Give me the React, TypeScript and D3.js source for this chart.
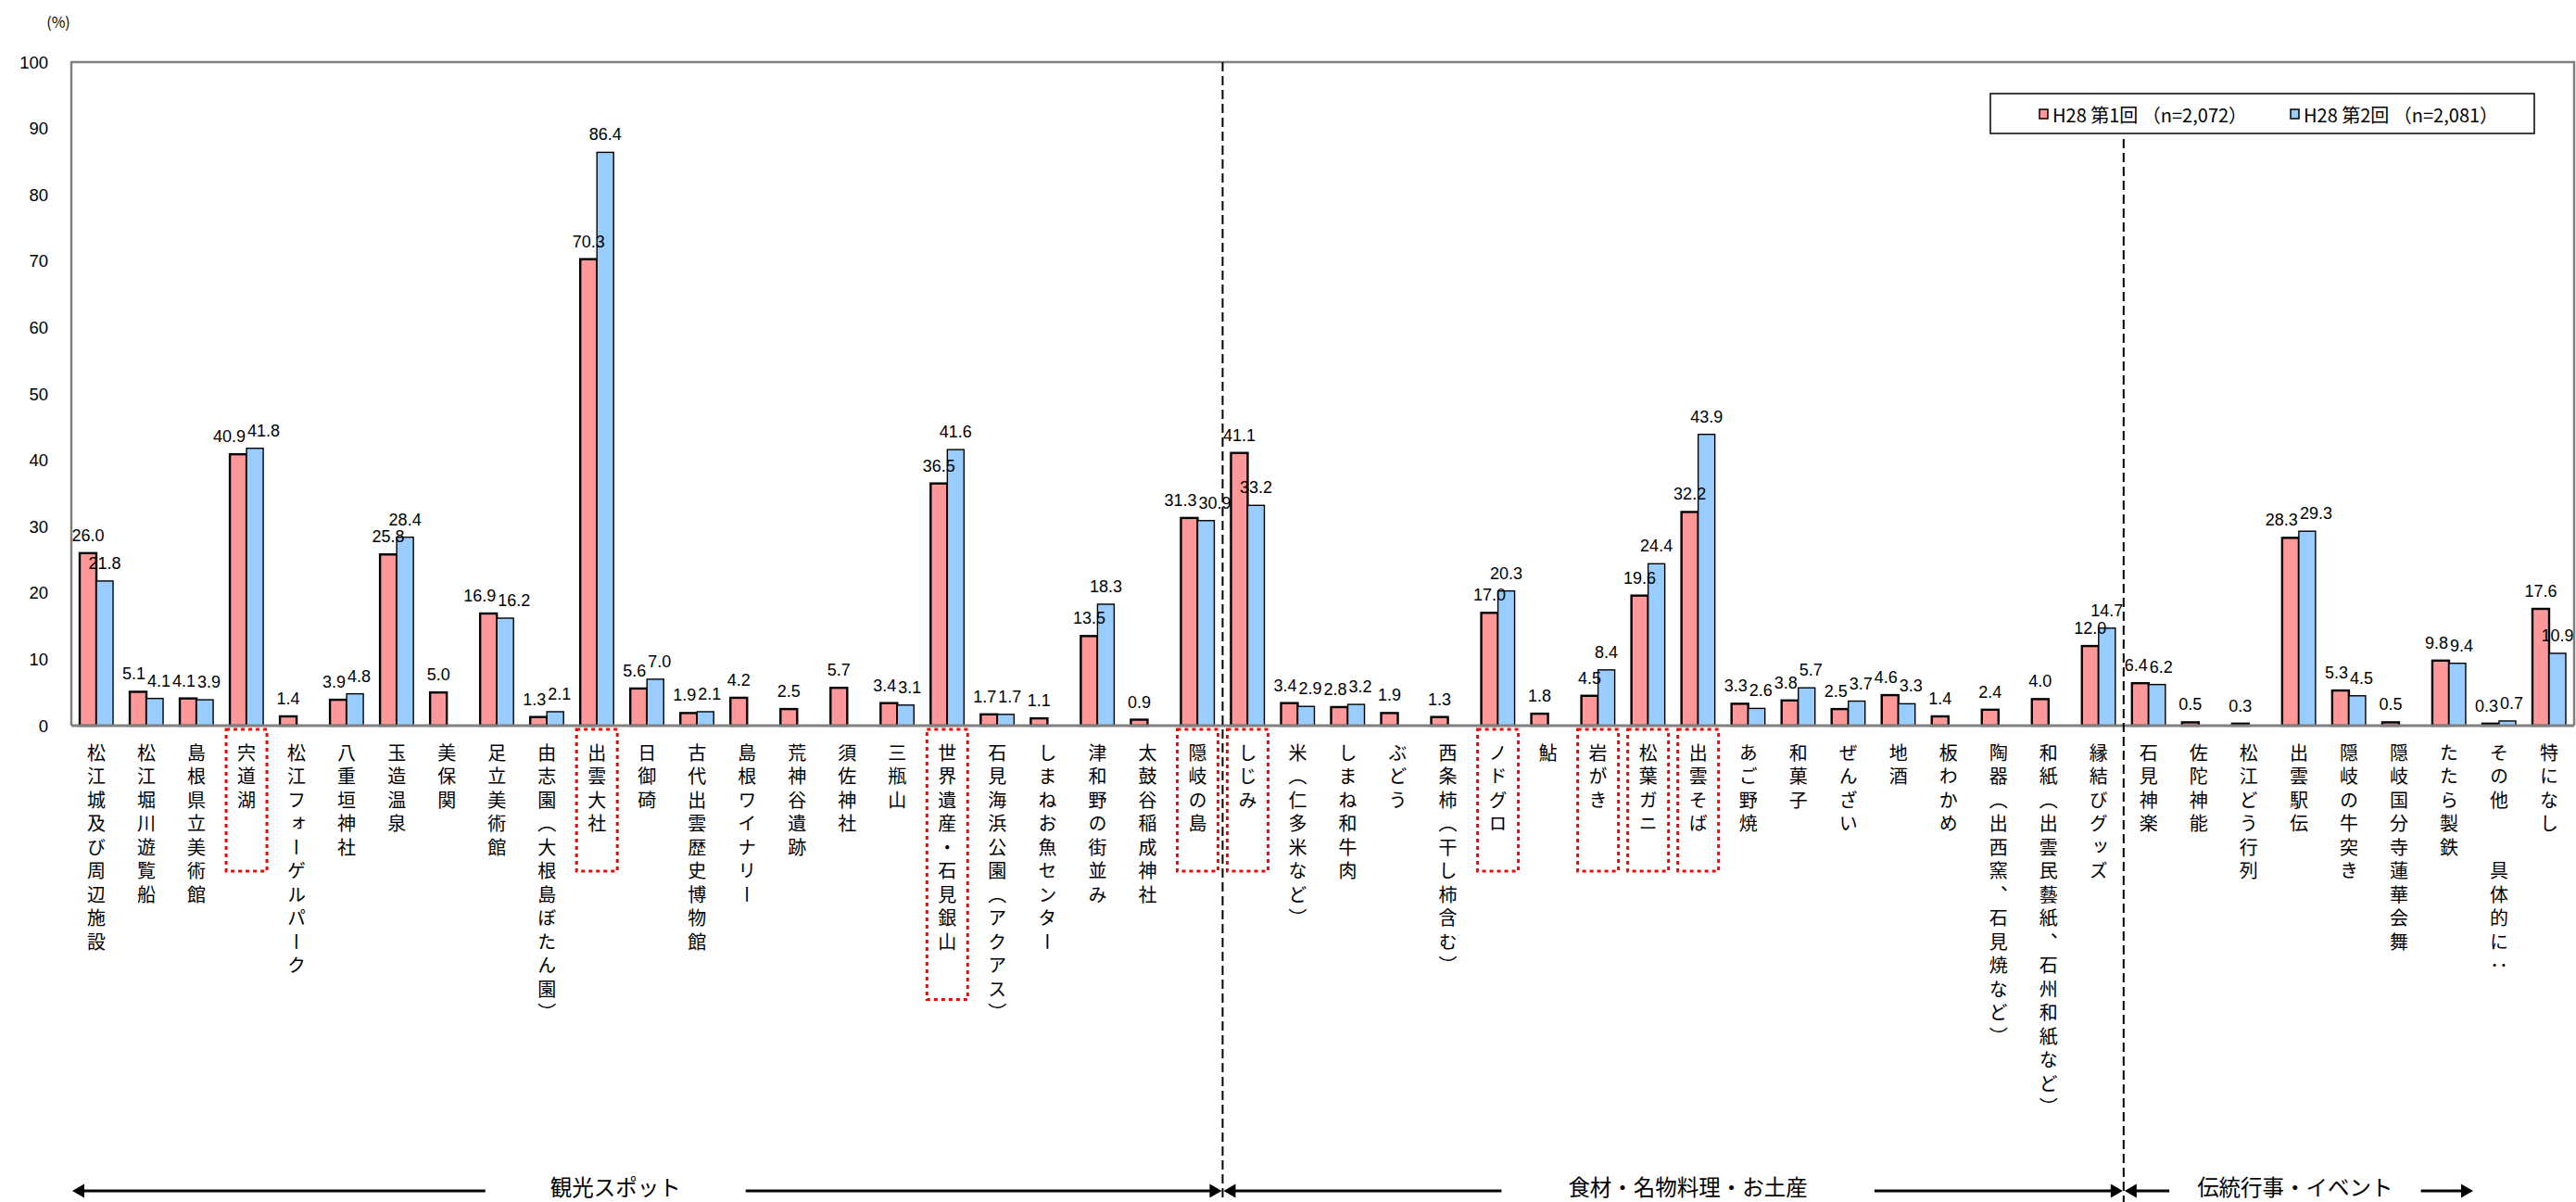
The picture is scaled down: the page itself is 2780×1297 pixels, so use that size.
import * as d3 from 'd3';

const categories = [
  '松江城及び周辺施設', '松江堀川遊覧船', '島根県立美術館', '宍道湖', '松江フォーゲルパーク',
  '八重垣神社', '玉造温泉', '美保関', '足立美術館', '由志園（大根島ぼたん園）',
  '出雲大社', '日御碕', '古代出雲歴史博物館', '島根ワイナリー', '荒神谷遺跡',
  '須佐神社', '三瓶山', '世界遺産・石見銀山', '石見海浜公園（アクアス）', 'しまねお魚センター',
  '津和野の街並み', '太鼓谷稲成神社', '隠岐の島',
  'しじみ', '米（仁多米など）', 'しまね和牛肉', 'ぶどう', '西条柿（干し柿含む）',
  'ノドグロ', '鮎', '岩がき', '松葉ガニ', '出雲そば',
  'あご野焼', '和菓子', 'ぜんざい', '地酒', '板わかめ',
  '陶器（出西窯、石見焼など）', '和紙（出雲民藝紙、石州和紙など）', '縁結びグッズ',
  '石見神楽', '佐陀神能', '松江どう行列', '出雲駅伝', '隠岐の牛突き',
  '隠岐国分寺蓮華会舞', 'たたら製鉄', 'その他　　具体的に：', '特になし',
];

const round1 = [
  26.0, 5.1, 4.1, 40.9, 1.4, 3.9, 25.8, 5.0, 16.9, 1.3,
  70.3, 5.6, 1.9, 4.2, 2.5, 5.7, 3.4, 36.5, 1.7, 1.1,
  13.5, 0.9, 31.3,
  41.1, 3.4, 2.8, 1.9, 1.3, 17.0, 1.8, 4.5, 19.6, 32.2,
  3.3, 3.8, 2.5, 4.6, 1.4, 2.4, 4.0, 12.0,
  6.4, 0.5, 0.3, 28.3, 5.3, 0.5, 9.8, 0.3, 17.6,
];

const round2: (number | null)[] = [
  21.8, 4.1, 3.9, 41.8, null, 4.8, 28.4, null, 16.2, 2.1,
  86.4, 7.0, 2.1, null, null, null, 3.1, 41.6, 1.7, null,
  18.3, null, 30.9,
  33.2, 2.9, 3.2, null, null, 20.3, null, 8.4, 24.4, 43.9,
  2.6, 5.7, 3.7, 3.3, null, null, null, 14.7,
  6.2, null, null, 29.3, 4.5, null, 9.4, 0.7, 10.9,
];

const seriesNames = ['H28 第1回 （n=2,072）', 'H28 第2回 （n=2,081）'];

const highlighted = ['宍道湖', '出雲大社', '世界遺産・石見銀山', '隠岐の島', 'しじみ', 'ノドグロ', '岩がき', '松葉ガニ', '出雲そば'];

const sectionNames = ['観光スポット', '食材・名物料理・お土産', '伝統行事・イベント'];
const sectionFirst = [0, 23, 41];
const sectionLast = [22, 40, 47];

const yTicks = [0, 10, 20, 30, 40, 50, 60, 70, 80, 90, 100];

const W = 2780;
const H = 1297;
const left = 77;
const right = 2778;
const top = 67;
const bottom = 783;

const RED = '#FF9999';
const BLUE = '#99CCFF';
const GRAY = '#808080';
const JP = '"Noto Sans CJK JP", "Noto Sans CJK SC", sans-serif';
const NUM = '"Liberation Sans", Arial, sans-serif';

// layout tweaks for the section captions under the chart
const sectionShift = [-34, 16, -4];
const sectionGap = [70, 72, 30];
const sectionFont = 23.5;
const labelFont = 18;

// rough width of a value label, Arial metrics
const labelWidth = (s: string) =>
  Array.from(s).reduce((w, ch) => w + (ch === '.' ? 0.278 : 0.556) * labelFont, 0);

export default function App() {
  const x = d3.scaleBand<string>()
    .domain(categories)
    .range([left, right])
    .paddingInner(1 / 3)
    .paddingOuter(1 / 6);
  const xs = d3.scaleBand<number>().domain([0, 1]).range([0, x.bandwidth()]);
  const y = d3.scaleLinear().domain([0, 100]).range([bottom, top]);

  const gapHalf = (x.step() - x.bandwidth()) / 2;
  const boundaryBefore = (i: number) => (x(categories[i]) as number) - gapHalf;
  const boundaryAfter = (i: number) => (x(categories[i]) as number) + x.bandwidth() + gapHalf;

  const divider1 = boundaryBefore(sectionFirst[1]);
  const divider2 = boundaryBefore(sectionFirst[2]);

  const arrowY = 1285;
  const head = (tipX: number, dir: number) =>
    `M${tipX},${arrowY} L${tipX - dir * 13},${arrowY - 7.5} L${tipX - dir * 13},${arrowY + 7.5} Z`;

  const series = [round1, round2];
  const fills = [RED, BLUE];
  const strokes = [2.4, 1.4];

  // value labels: centred over bars, pushed apart sideways when a pair collides
  const labels = categories.flatMap((c, i) => {
    const base = x(c) as number;
    const items = series.map((s, k) => {
      const v = s[i];
      if (v === null || v === undefined) return null;
      const txt = v.toFixed(1);
      return { key: `${c}-${k}`, txt, w: labelWidth(txt), cx: base + (xs(k) as number) + xs.bandwidth() / 2, ly: y(v) - 13 };
    });
    const [a, b] = items;
    if (a && b && Math.abs(a.ly - b.ly) < 18) {
      const need = (a.w + b.w) / 2 + 2 - (b.cx - a.cx);
      if (need > 0) {
        a.cx -= need / 2;
        b.cx += need / 2;
      }
    }
    return items.filter(Boolean) as { key: string; txt: string; w: number; cx: number; ly: number }[];
  });

  return (
    <svg width={W} height={H} style={{ position: 'absolute', left: 0, top: 0, background: '#fff' }}>
      {/* (%) unit */}
      <text x={63} y={30} textAnchor="middle" fontFamily={JP} fontSize={16}>(%)</text>

      {/* y tick labels */}
      {yTicks.map(t => (
        <text key={t} x={52} y={y(t)} textAnchor="end" dominantBaseline="central" fontFamily={NUM} fontSize={18.5}>{t}</text>
      ))}

      {/* bars */}
      {categories.map((c, i) => (
        <g key={c} transform={`translate(${x(c)},0)`}>
          {series.map((s, k) => {
            const v = s[i];
            if (v === null || v === undefined) return null;
            return (
              <rect key={k} x={xs(k)} y={y(v)} width={xs.bandwidth()} height={bottom - y(v)}
                fill={fills[k]} stroke="#000" strokeWidth={strokes[k]} />
            );
          })}
        </g>
      ))}

      {labels.map(l => (
        <text key={l.key} x={l.cx} y={l.ly} textAnchor="middle" fontFamily={NUM} fontSize={labelFont}>{l.txt}</text>
      ))}

      {/* plot frame */}
      <path d={`M${left},${bottom} V${top} H${right} V${bottom}`} fill="none" stroke={GRAY} strokeWidth={2.5} />
      <line x1={left} x2={right} y1={bottom} y2={bottom} stroke={GRAY} strokeWidth={3} />

      {/* category labels, vertical */}
      {categories.map(c => (
        <text key={c} x={(x(c) as number) + x.bandwidth() / 2} y={802}
          fontFamily={JP} fontSize={20}
          style={{ writingMode: 'vertical-rl', textOrientation: 'upright', letterSpacing: '5.5px' } as any}>
          {c}
        </text>
      ))}

      {/* highlighted boxes */}
      {highlighted.map(c => {
        const n = Array.from(c).length;
        const h = n > 5 ? n * 25.5 + 62 : 153;
        const cx = (x(c) as number) + x.bandwidth() / 2;
        return (
          <rect key={c} x={cx - 22} y={787} width={44} height={h} fill="none"
            stroke="#FF0000" strokeWidth={3} strokeDasharray="4 4" />
        );
      })}

      {/* section dividers */}
      <line x1={divider1} x2={divider1} y1={top} y2={H} stroke="#000" strokeWidth={2} strokeDasharray="10 5" />
      <line x1={divider2} x2={divider2} y1={150} y2={H} stroke="#000" strokeWidth={2} strokeDasharray="10 5" />

      {/* section captions with arrows */}
      {sectionNames.map((name, i) => {
        const x0 = boundaryBefore(sectionFirst[i]);
        const x1 = boundaryAfter(sectionLast[i]);
        const cx = (x0 + x1) / 2 + sectionShift[i];
        const tw = Array.from(name).length * sectionFont;
        const a = x0 + 1;
        const b = x1 - 1;
        return (
          <g key={name}>
            <line x1={a + 10} x2={cx - tw / 2 - sectionGap[i]} y1={arrowY} y2={arrowY} stroke="#000" strokeWidth={3} />
            <line x1={cx + tw / 2 + sectionGap[i]} x2={b - 10} y1={arrowY} y2={arrowY} stroke="#000" strokeWidth={3} />
            <path d={head(a, -1)} fill="#000" />
            <path d={head(b, 1)} fill="#000" />
            <text x={cx} y={1280} textAnchor="middle" dominantBaseline="central" fontFamily={JP} fontSize={sectionFont}>{name}</text>
          </g>
        );
      })}

      {/* legend */}
      <rect x={2148} y={101} width={587} height={43} fill="#fff" stroke="#000" strokeWidth={1.5} />
      {seriesNames.map((s, k) => {
        const lx = 2201 + k * 271;
        return (
          <g key={s}>
            <rect x={lx} y={118} width={9} height={10} fill={fills[k]} stroke="#000" strokeWidth={1.5} />
            <text x={lx + 14} y={123} dominantBaseline="central" fontFamily={JP} fontSize={20}>{s}</text>
          </g>
        );
      })}
    </svg>
  );
}
